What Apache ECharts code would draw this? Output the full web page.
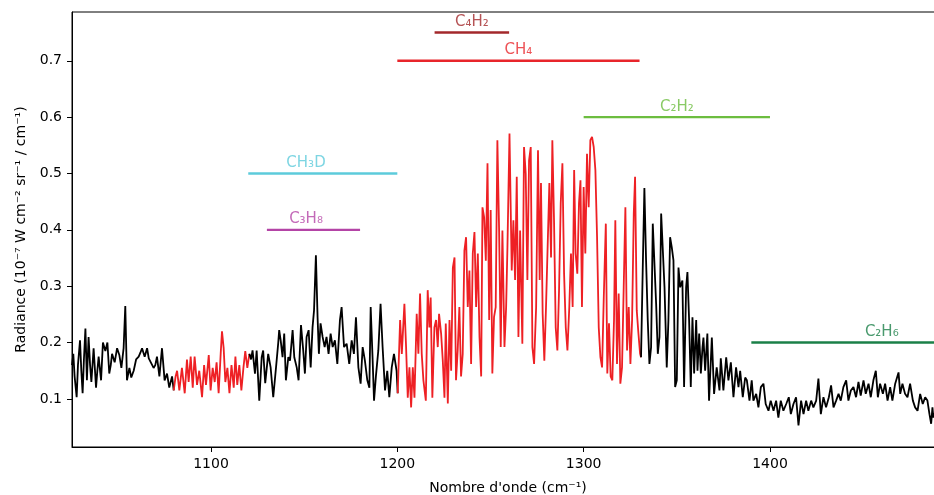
<!DOCTYPE html>
<html><head><meta charset="utf-8">
<script src="https://cdn.jsdelivr.net/npm/echarts@6/dist/echarts.min.js"></script>
<style>html,body{margin:0;padding:0;background:#fff}#wrap{position:relative;width:934px;height:495px;overflow:hidden}#c{position:absolute;left:0;top:0;width:944px;height:495px}</style>
</head><body><div id="wrap"><div id="c"></div></div>
<script>
// ---- tick labels ----
const xTicks = [1100, 1200, 1300, 1400];
const yTicks = [0.1, 0.2, 0.3, 0.4, 0.5, 0.6, 0.7];

// ---- spectrum [wavenumber, radiance], split by colour segment ----
const segBlack1 = [
[1025.4,0.16],[1026.1,0.18],[1026.8,0.14],[1027.9,0.103],[1028.6,0.16],[1029.7,0.204],[1030.4,0.15],[1031.1,0.11],
[1031.8,0.17],[1032.6,0.225],[1033.4,0.133],[1034.3,0.21],[1035.1,0.16],[1035.8,0.13],[1037.0,0.19],[1038.3,0.12],
[1039.0,0.15],[1039.7,0.175],[1041.0,0.133],[1042.0,0.2],[1043.3,0.185],[1044.4,0.2],[1045.4,0.145],[1046.2,0.16],
[1046.9,0.18],[1048.3,0.165],[1049.6,0.19],[1050.8,0.178],[1051.9,0.155],[1053.1,0.19],[1054.0,0.265],[1054.9,0.133],
[1056.2,0.155],[1057.2,0.138],[1058.5,0.15],[1059.8,0.17],[1061.2,0.175],[1062.1,0.182],[1063.0,0.19],[1064.4,0.175],
[1065.7,0.19],[1066.6,0.172],[1067.4,0.17],[1069.2,0.155],[1070.1,0.16],[1071.0,0.175],[1072.3,0.14],[1073.7,0.19],
[1075.1,0.133],[1076.4,0.145],[1077.6,0.12],[1079.1,0.14],[1080.0,0.115]
];
const segRed1 = [
[1080.0,0.115],[1081.0,0.14],[1081.8,0.15],[1083.0,0.115],[1084.4,0.155],[1085.9,0.11],[1087.1,0.17],[1088.0,0.13],
[1089.1,0.175],[1090.2,0.12],[1091.2,0.175],[1092.5,0.125],[1093.7,0.15],[1095.2,0.103],[1096.3,0.16],[1097.3,0.125],
[1098.8,0.178],[1099.8,0.115],[1100.9,0.155],[1102.0,0.13],[1103.0,0.165],[1104.1,0.11],[1105.2,0.18],[1105.9,0.22],
[1106.8,0.19],[1107.7,0.13],[1108.8,0.155],[1109.9,0.11],[1111.0,0.16],[1112.2,0.12],[1113.1,0.175],[1114.1,0.125],
[1115.2,0.16],[1116.3,0.115],[1117.4,0.155],[1118.4,0.185],[1119.5,0.155],[1120.6,0.18]
];
const segBlack2 = [
[1120.6,0.18],[1121.5,0.17],[1122.3,0.186],[1123.6,0.145],[1124.5,0.186],[1125.9,0.097],[1127.2,0.174],[1128.0,0.186],
[1129.1,0.128],[1130.7,0.18],[1132.0,0.156],[1133.4,0.103],[1134.9,0.156],[1136.1,0.2],[1136.6,0.222],[1137.4,0.204],
[1138.4,0.174],[1139.3,0.216],[1140.2,0.133],[1141.5,0.174],[1142.4,0.168],[1143.8,0.222],[1144.7,0.174],[1146.0,0.156],
[1147.0,0.133],[1148.3,0.231],[1149.5,0.186],[1150.4,0.145],[1151.3,0.21],[1152.4,0.222],[1153.5,0.156],[1154.5,0.227],
[1155.3,0.257],[1156.3,0.355],[1157.2,0.245],[1157.9,0.18],[1158.8,0.234],[1159.9,0.21],[1161.0,0.192],[1162.0,0.21],
[1163.1,0.18],[1164.2,0.216],[1165.3,0.192],[1166.5,0.204],[1167.8,0.162],[1169.2,0.24],[1170.1,0.263],[1171.4,0.192],
[1172.8,0.198],[1174.2,0.162],[1175.5,0.204],[1176.7,0.18],[1177.8,0.245],[1179.1,0.156],[1180.3,0.127],[1181.4,0.192],
[1182.6,0.168],[1183.9,0.133],[1185.0,0.12],[1185.7,0.263],[1186.7,0.174],[1187.5,0.097],[1188.5,0.14],[1189.8,0.186],
[1191.0,0.269],[1192.1,0.192],[1193.4,0.115],[1194.6,0.15],[1195.7,0.103],[1197.0,0.156],[1198.2,0.18],[1199.6,0.15],
[1200.2,0.11]
];
const segRed2 = [
[1200.2,0.11],[1201.5,0.24],[1202.4,0.18],[1203.8,0.269],[1204.7,0.192],[1205.6,0.102],[1206.5,0.156],[1207.4,0.085],
[1208.3,0.156],[1209.2,0.102],[1210.4,0.251],[1211.3,0.18],[1212.2,0.287],[1213.1,0.18],[1214.0,0.133],[1215.3,0.097],
[1216.3,0.293],[1217.2,0.227],[1217.9,0.28],[1218.8,0.102],[1219.9,0.227],[1220.8,0.24],[1221.7,0.192],[1222.4,0.251],
[1223.5,0.216],[1224.4,0.168],[1225.3,0.102],[1226.0,0.234],[1227.1,0.092],[1228.0,0.24],[1228.9,0.15],[1229.8,0.333],
[1230.7,0.351],[1231.5,0.133],[1232.4,0.186],[1233.3,0.263],[1234.2,0.14],[1235.1,0.18],[1236.0,0.363],[1236.9,0.387],
[1237.8,0.263],[1238.7,0.328],[1239.6,0.162],[1240.5,0.358],[1241.4,0.396],[1242.3,0.263],[1243.2,0.358],[1244.1,0.21],
[1245.0,0.14],[1245.7,0.44],[1246.6,0.422],[1247.5,0.345],[1248.4,0.518],[1249.3,0.24],[1250.1,0.435],[1251.0,0.145],
[1251.9,0.245],[1252.8,0.263],[1253.7,0.559],[1254.6,0.404],[1255.5,0.192],[1256.4,0.399],[1257.5,0.192],[1258.4,0.263],
[1259.1,0.369],[1260.2,0.571],[1261.4,0.328],[1262.3,0.417],[1263.2,0.311],[1264.1,0.494],[1265.0,0.21],[1265.9,0.399],
[1267.1,0.198],[1268.0,0.547],[1268.9,0.5],[1269.8,0.311],[1270.7,0.523],[1271.6,0.547],[1272.5,0.192],[1273.4,0.162],
[1274.5,0.263],[1275.5,0.541],[1276.4,0.311],[1277.1,0.483],[1278.0,0.251],[1278.9,0.168],[1279.8,0.263],[1280.7,0.26],
[1281.6,0.483],[1282.5,0.351],[1283.2,0.559],[1284.1,0.417],[1285.0,0.227],[1285.9,0.186],[1286.8,0.293],[1287.7,0.447],
[1288.6,0.518],[1289.5,0.322],[1290.4,0.227],[1291.3,0.186],[1292.3,0.263],[1293.2,0.358],[1294.1,0.263],[1294.9,0.506],
[1295.7,0.358],[1296.6,0.322],[1297.5,0.447],[1298.3,0.488],[1299.1,0.263],[1300.0,0.476],[1300.9,0.358],[1301.8,0.535],
[1302.7,0.44],[1303.6,0.559],[1304.5,0.565],[1305.4,0.547],[1306.3,0.506],[1307.2,0.387],[1308.1,0.227],[1309.0,0.174],
[1309.9,0.156],[1310.8,0.28],[1311.9,0.411],[1312.7,0.145],[1313.6,0.234],[1314.5,0.14],[1315.4,0.133],[1316.3,0.24],
[1317.0,0.417],[1317.9,0.162],[1318.8,0.287],[1319.7,0.127],[1320.6,0.156],[1321.5,0.298],[1322.4,0.44],[1323.3,0.186],
[1324.2,0.263],[1325.1,0.162],[1326.0,0.24],[1326.9,0.429],[1327.6,0.494],[1328.5,0.257],[1329.4,0.216],[1330.3,0.18],
[1330.8,0.174]
];
const segBlack3 = [
[1330.8,0.174],[1331.7,0.328],[1332.6,0.474],[1333.5,0.346],[1334.4,0.24],[1335.3,0.162],[1336.2,0.192],[1337.1,0.411],
[1338.0,0.411],[1338.9,0.269],[1339.8,0.18],[1340.7,0.21],[1341.6,0.429],[1342.5,0.429],[1343.4,0.298],[1344.6,0.156],
[1345.5,0.24],[1346.4,0.387],[1347.3,0.369],[1348.2,0.346],[1349.1,0.121],[1350.0,0.133],[1350.9,0.333],[1351.8,0.298],
[1353.0,0.31],[1353.9,0.121],[1355.0,0.298],[1355.7,0.325],[1356.6,0.24],[1357.5,0.121],[1358.4,0.245],[1359.3,0.145],
[1360.4,0.24],[1361.1,0.15],[1362.0,0.216],[1362.9,0.145],[1363.8,0.192],[1364.3,0.209],[1365.2,0.15],[1366.4,0.216],
[1367.3,0.097],[1368.8,0.209],[1370.0,0.109],[1371.4,0.156],[1372.9,0.115],[1373.6,0.172],[1375.0,0.115],[1376.5,0.174],
[1377.7,0.133],[1379.0,0.165],[1380.4,0.103],[1381.8,0.156],[1383.1,0.121],[1384.0,0.15],[1385.4,0.103],[1386.7,0.138],
[1387.6,0.133],[1389.0,0.097],[1390.2,0.133],[1391.1,0.097],[1392.6,0.109],[1393.8,0.085],[1395.1,0.121],[1396.5,0.127],
[1397.7,0.091],[1399.2,0.079],[1400.4,0.097],[1401.9,0.079],[1403.3,0.097],[1404.5,0.067],[1405.8,0.097],[1407.2,0.079],
[1408.7,0.091],[1410.1,0.103],[1411.2,0.073],[1412.6,0.091],[1414.0,0.103],[1415.3,0.053],[1416.7,0.097],[1418.0,0.073],
[1419.4,0.097],[1420.6,0.079],[1422.1,0.097],[1423.3,0.085],[1424.8,0.097],[1426.0,0.136],[1427.3,0.073],[1428.7,0.103],
[1430.1,0.085],[1431.6,0.103],[1432.8,0.124],[1434.1,0.085],[1435.5,0.097],[1436.8,0.109],[1438.0,0.097],[1439.4,0.121],
[1440.9,0.133],[1442.1,0.097],[1443.4,0.115],[1444.8,0.121],[1446.2,0.103],[1447.5,0.13],[1448.7,0.106],[1450.2,0.133],
[1451.4,0.109],[1452.9,0.127],[1454.1,0.103],[1455.5,0.133],[1456.8,0.15],[1457.9,0.103],[1459.1,0.127],[1460.6,0.109],
[1461.8,0.127],[1463.1,0.097],[1464.5,0.121],[1465.7,0.097],[1467.2,0.127],[1469.0,0.147],[1469.9,0.109],[1471.1,0.127],
[1472.5,0.109],[1473.8,0.103],[1475.2,0.127],[1476.7,0.097],[1477.9,0.085],[1479.2,0.079],[1480.6,0.109],[1482.0,0.091],
[1483.3,0.103],[1484.5,0.097],[1485.6,0.073],[1486.5,0.056],[1487.2,0.085],[1487.7,0.067],[1489.0,0.08],[1490.5,0.07]
];

// ---- molecule band annotations ----
const molNames  = ['C\u2084H\u2082', 'CH\u2084', 'C\u2082H\u2082', 'CH\u2083D', 'C\u2083H\u2088', 'C\u2082H\u2086'];
const molStart  = [1220, 1200, 1300, 1120, 1130, 1390];
const molEnd    = [1260, 1330, 1400, 1200, 1180, 1500];
const molLevel  = [0.75, 0.70, 0.60, 0.50, 0.40, 0.20];
const molLabelX = [1240, 1265, 1350, 1151, 1151, 1460];

// ---- styles ----
const molColors = ['#a3282b', '#e8252b', '#6cbd3f', '#5ccbdb', '#b444a6', '#1b8048'];
const BLACK = '#000000', RED = '#ee2024';
const FONT = 'DejaVu Sans';

const spectrumSegs = [[segBlack1, BLACK], [segRed1, RED], [segBlack2, BLACK], [segRed2, RED], [segBlack3, BLACK]];

const series = [];
spectrumSegs.forEach(([d, c]) => series.push({
  type: 'line', data: d, showSymbol: false, symbol: 'none', silent: true,
  lineStyle: { color: c, width: 1.8 }, z: 2, animation: false
}));
molNames.forEach((n, i) => {
  series.push({
    type: 'line', data: [[molStart[i], molLevel[i]], [molEnd[i], molLevel[i]]],
    showSymbol: false, symbol: 'none', silent: true,
    lineStyle: { color: molColors[i], width: 2.4 }, z: 3, animation: false
  });
  series.push({
    type: 'scatter', data: [[molLabelX[i], molLevel[i]]], symbolSize: 0, silent: true,
    label: { show: true, position: 'top', distance: 3, formatter: n,
      color: molColors[i], fontFamily: FONT, fontSize: 15 }, z: 4, animation: false
  });
});

const chart = echarts.init(document.getElementById('c'), null, { renderer: 'canvas', width: 944, height: 495 });
chart.setOption({
  animation: false,
  backgroundColor: '#ffffff',
  grid: { left: 72, top: 12, right: 0, bottom: 48, show: true, borderColor: '#000', borderWidth: 1,
    containLabel: false, outerBoundsMode: 'none' },
  xAxis: {
    type: 'value', min: 1025.4, max: 1493.4,
    name: 'Nombre d\'onde (cm\u207B\u00B9)', nameLocation: 'middle', nameGap: 34,
    nameTextStyle: { fontFamily: FONT, fontSize: 14, color: '#000' },
    axisLine: { show: true, lineStyle: { color: '#000', width: 1 } },
    axisTick: { show: true, inside: false, length: 5, lineStyle: { color: '#000', width: 1 }, customValues: xTicks },
    axisLabel: { show: true, margin: 10, fontFamily: FONT, fontSize: 14, color: '#000', customValues: xTicks,
      formatter: v => String(Math.round(v)) },
    splitLine: { show: false }
  },
  yAxis: {
    type: 'value', min: 0.0147, max: 0.7865,
    name: 'Radiance (10\u207B\u2077 W cm\u207B\u00B2 sr\u207B\u00B9 / cm\u207B\u00B9)', nameLocation: 'middle', nameGap: 44,
    nameRotate: 90,
    nameTextStyle: { fontFamily: FONT, fontSize: 14, color: '#000' },
    axisLine: { show: true, lineStyle: { color: '#000', width: 1 } },
    axisTick: { show: true, inside: false, length: 5, lineStyle: { color: '#000', width: 1 }, customValues: yTicks },
    axisLabel: { show: true, margin: 10, fontFamily: FONT, fontSize: 14, color: '#000', customValues: yTicks,
      formatter: v => v.toFixed(1) },
    splitLine: { show: false }
  },
  series: series
});
</script>
</body></html>
